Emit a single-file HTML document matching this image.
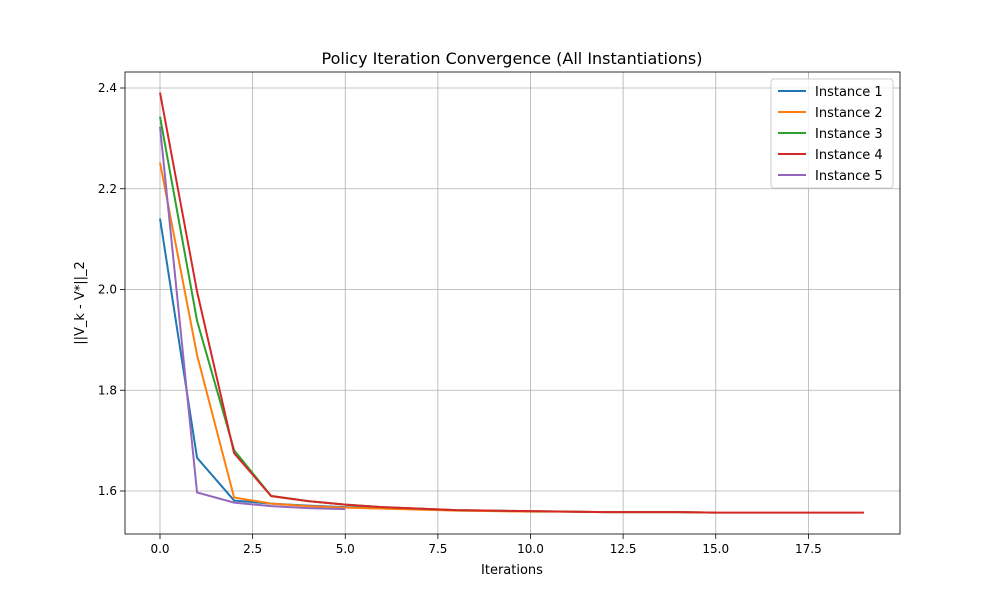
<!DOCTYPE html>
<html><head><meta charset="utf-8"><style>
body{margin:0;background:#fff;font-family:"Liberation Sans","DejaVu Sans",sans-serif;}
svg text{font-family:"DejaVu Sans","Liberation Sans",sans-serif;}
</style></head><body>
<svg id="chart" width="1000" height="600" xmlns="http://www.w3.org/2000/svg"></svg>
<script>
const xTicks=[0,2.5,5,7.5,10,12.5,15,17.5];
const yTicks=[1.6,1.8,2.0,2.2,2.4];
const seriesNames=["Instance 1","Instance 2","Instance 3","Instance 4","Instance 5"];
const colors=["#1f77b4","#ff7f0e","#2ca02c","#d62728","#9467bd"];
const s1=[2.141,1.666,1.581,1.575,1.571,1.568,1.566,1.564];
const s2=[2.252,1.870,1.587,1.575,1.570,1.567,1.565,1.563,1.561,1.560,1.559,1.559,1.558,1.558,1.558,1.557];
const s3=[2.343,1.938,1.681,1.590,1.580,1.573,1.568,1.565,1.562,1.561,1.560,1.559,1.558,1.558,1.558,1.557];
const s4=[2.391,1.996,1.675,1.590,1.580,1.573,1.568,1.565,1.562,1.561,1.560,1.559,1.558,1.558,1.558,1.557,1.557,1.557,1.557,1.557];
const s5=[2.323,1.597,1.577,1.570,1.566,1.564];
const series=[s1,s2,s3,s4,s5];
const L=125,R=900,T=72,B=534;
const xs=v=>160+v*37.05;
const ys=v=>491-(v-1.6)*503.75;
const svg=document.getElementById('chart');
const NS="http://www.w3.org/2000/svg";
function mk(tag,attrs,parent){const e=document.createElementNS(NS,tag);for(const k in attrs)e.setAttribute(k,attrs[k]);(parent||svg).appendChild(e);return e;}
const grid=mk('g',{});


xTicks.forEach(t=>{const x=xs(t);
 mk('line',{x1:x,x2:x,y1:T,y2:B,stroke:'#b0b0b0','stroke-width':0.8},grid);
 mk('line',{x1:x,x2:x,y1:B,y2:B+5,stroke:'#000','stroke-width':0.8});
 const tx=mk('text',{x:x,y:B+19,'font-size':12,'text-anchor':'middle'});tx.textContent=t.toFixed(1);
 
 
});
yTicks.forEach(t=>{const y=ys(t);
 mk('line',{x1:L,x2:R,y1:y,y2:y,stroke:'#b0b0b0','stroke-width':0.8},grid);
 mk('line',{x1:L-5,x2:L,y1:y,y2:y,stroke:'#000','stroke-width':0.8});
 const tx=mk('text',{x:L-8,y:y+4,'font-size':12,'text-anchor':'end'});tx.textContent=t.toFixed(1);
 
 
});
series.forEach((s,i)=>{
 const p=mk('polyline',{points:s.map((v,j)=>xs(j)+','+ys(v)).join(' '),fill:'none',stroke:colors[i],'stroke-width':2});
 
 
});
const frame=mk('rect',{x:L,y:T,width:R-L,height:B-T,fill:'none',stroke:'#000','stroke-width':0.8});


const title=mk('text',{x:512,y:64,'font-size':16,'text-anchor':'middle'});title.textContent='Policy Iteration Convergence (All Instantiations)';


const xl=mk('text',{x:512,y:574,'font-size':13,'text-anchor':'middle'});xl.textContent='Iterations';


const yl=mk('text',{x:0,y:0,'font-size':13,'text-anchor':'middle',transform:'translate(84,303) rotate(-90)'});yl.textContent='||V_k - V*||_2';


const lg=mk('g',{});


mk('rect',{x:771,y:79,width:122,height:109,rx:3,fill:'#fff','fill-opacity':0.8,stroke:'#ccc'},lg);
seriesNames.forEach((n,i)=>{const y=91+i*21;
 const ln=mk('line',{x1:778,x2:806,y1:y,y2:y,stroke:colors[i],'stroke-width':2},lg);
 
 
 const t=mk('text',{x:815,y:y+5,'font-size':13},lg);t.textContent=n;
 
 
});
</script>
</body></html>
